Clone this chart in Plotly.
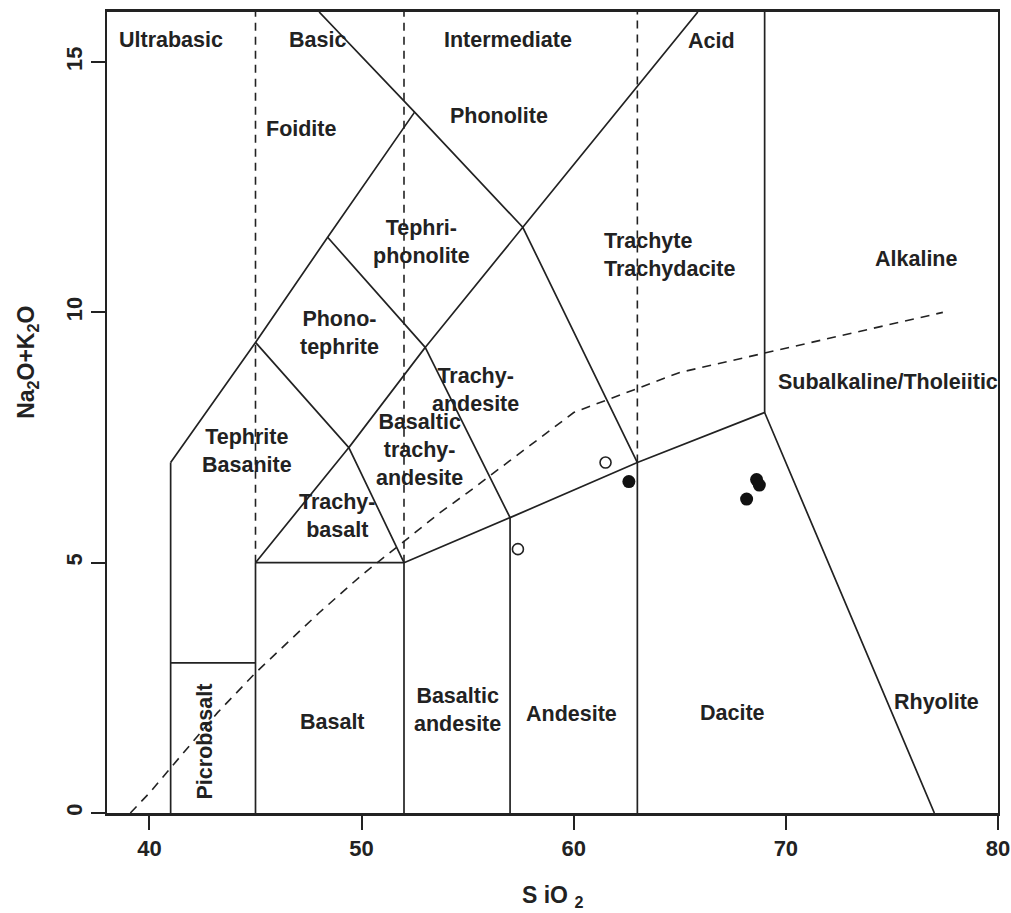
import plotly.graph_objects as go

# ---------------- data ----------------
# TAS field boundaries (SiO2, Na2O+K2O)
solid_lines = [
    ([41, 41], [0, 7]),
    ([41, 45], [3, 3]),
    ([45, 45], [0, 5]),
    ([45, 52], [5, 5]),
    ([52, 52], [0, 5]),
    ([52, 57, 63, 69, 77], [5, 5.9, 7, 8, 0]),
    ([57, 57], [0, 5.9]),
    ([63, 63], [0, 7]),
    ([69, 69], [8, 16]),
    ([41, 45, 48.4, 52.5], [7, 9.4, 11.5, 14]),
    ([45, 49.4, 52], [5, 7.3, 5]),
    ([45, 49.4, 53, 57], [9.4, 7.3, 9.3, 5.9]),
    ([48.4, 53, 57.6, 63], [11.5, 9.3, 11.7, 7]),
    ([48.0, 52.5, 57.6, 65.85], [16, 14, 11.7, 16]),
]
dashed_lines = [
    ([45, 45], [5, 16]),
    ([52, 52], [5, 16]),
    ([63, 63], [7, 16]),
]
# Irvine & Baragar alkaline / subalkaline divide
ib_x = [39.1, 40, 43.2, 45, 48, 50, 53.7, 55, 60, 65, 77.4]
ib_y = [0, 0.4, 2, 2.8, 4, 4.75, 6, 6.4, 8, 8.8, 10]

# samples
open_x = [57.37, 61.5]
open_y = [5.27, 7.0]
filled_x = [62.6, 68.15, 68.62, 68.75]
filled_y = [6.62, 6.27, 6.66, 6.55]

# field labels
label_text = ["Ultrabasic", "Basic", "Intermediate", "Acid", "Foidite", "Phonolite",
              "Tephri-<br>phonolite", "Alkaline", "Phono-<br>tephrite",
              "Trachy-<br>andesite", "Subalkaline/Tholeiitic", "Tephrite<br>Basanite",
              "Basaltic<br>trachy-<br>andesite", "Trachy-<br>basalt", "Basalt",
              "Basaltic<br>andesite", "Andesite", "Dacite", "Rhyolite"]
label_x = [41.04, 47.92, 56.9, 66.5, 47.17, 56.5, 52.83, 76.13, 48.96,
           55.38, 74.8, 44.62, 52.75, 48.82, 48.63, 54.5, 59.9, 67.5, 77.08]
label_y = [15.44, 15.44, 15.44, 15.42, 13.66, 13.92, 11.4, 11.06, 9.58,
           8.44, 8.6, 7.24, 7.26, 5.94, 1.82, 2.06, 1.98, 2.0, 2.22]
left_label = ("Trachyte<br>Trachydacite", 61.32, 11.14)
rot_label = ("Picrobasalt", 42.6, 1.42)

x_ticks = [40, 50, 60, 70, 80]
y_ticks = [0, 5, 10, 15]

# ---------------- figure ----------------
ink = "#222222"
FONT = "Liberation Sans, Arial, sans-serif"

def join(lines):
    xs, ys = [], []
    for lx, ly in lines:
        xs += list(lx) + [None]
        ys += list(ly) + [None]
    return xs, ys

fig = go.Figure()
sx, sy = join(solid_lines)
fig.add_trace(go.Scatter(x=sx, y=sy, mode="lines", line=dict(color=ink, width=1.7),
                         hoverinfo="skip", showlegend=False))
dx, dy = join(dashed_lines)
fig.add_trace(go.Scatter(x=dx, y=dy, mode="lines",
                         line=dict(color=ink, width=1.6, dash="8px,6px"),
                         hoverinfo="skip", showlegend=False))
fig.add_trace(go.Scatter(x=ib_x, y=ib_y, mode="lines",
                         line=dict(color=ink, width=1.6, dash="9px,7px"),
                         hoverinfo="skip", showlegend=False))
fig.add_trace(go.Scatter(x=open_x, y=open_y, mode="markers",
                         marker=dict(size=11, color="white", line=dict(color=ink, width=1.6)),
                         showlegend=False))
fig.add_trace(go.Scatter(x=filled_x, y=filled_y, mode="markers",
                         marker=dict(size=13, color="#111111", line=dict(width=0)),
                         showlegend=False))

lab_font = dict(family=FONT, size=21.5, color=ink, weight="bold")
for t, x, y in zip(label_text, label_x, label_y):
    fig.add_annotation(x=x, y=y, text=t, showarrow=False, font=lab_font,
                       xanchor="center", yanchor="middle", align="center")
fig.add_annotation(x=left_label[1], y=left_label[2], text=left_label[0], showarrow=False,
                   font=lab_font, xanchor="left", yanchor="middle", align="left")
fig.add_annotation(x=rot_label[1], y=rot_label[2], text=rot_label[0], showarrow=False,
                   font=lab_font, textangle=-90, xanchor="center", yanchor="middle")

# axis titles (plot area: x 107..998, y 12..813 px)
fig.add_annotation(xref="paper", yref="paper", x=0.5, y=-0.104, text="S iO <sub>2</sub>",
                   showarrow=False, font=dict(family=FONT, size=23, color=ink, weight="bold"),
                   xanchor="center", yanchor="middle")
fig.add_annotation(xref="paper", yref="paper", x=-0.09, y=0.563,
                   text="Na<sub>2</sub>O+K<sub>2</sub>O", textangle=-90,
                   showarrow=False, font=dict(family=FONT, size=23, color=ink, weight="bold"),
                   xanchor="center", yanchor="middle")

tick_font = dict(family=FONT, size=22, color=ink, weight="bold")
fig.update_xaxes(range=[38, 80], tickvals=x_ticks, ticks="outside", ticklen=14, tickwidth=2,
                 tickcolor=ink, showgrid=False, zeroline=False, showline=True, linewidth=2.5,
                 linecolor=ink, mirror=True, tickfont=tick_font, automargin=False)
fig.update_yaxes(range=[0, 16], tickvals=y_ticks, ticks="outside", ticklen=14, tickwidth=2,
                 tickcolor=ink, showgrid=False, zeroline=False, showline=True, linewidth=2,
                 linecolor=ink, mirror=True, tickfont=tick_font, tickangle=-90, automargin=False)

fig.update_layout(width=1011, height=913, margin=dict(l=107, r=13, t=12, b=100),
                  plot_bgcolor="white", paper_bgcolor="white", showlegend=False)

fig.write_html("out.html", config={"displayModeBar": False},
               post_script="document.body.style.margin='0';document.body.style.overflow='hidden';")
